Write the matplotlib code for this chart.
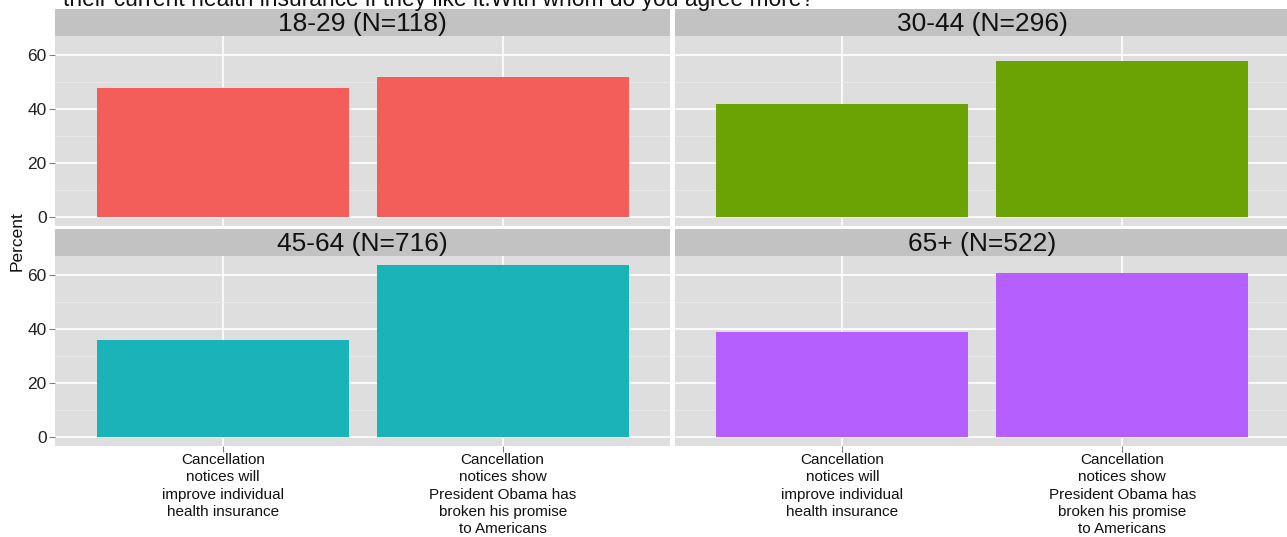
import numpy as np
import matplotlib
matplotlib.use("Agg")
import matplotlib.pyplot as plt

plt.rcParams['font.family'] = ['Liberation Sans', 'DejaVu Sans']

# data
groups = ['18-29 (N=118)', '30-44 (N=296)', '45-64 (N=716)', '65+ (N=522)']
answers = ['Cancellation\nnotices will\nimprove individual\nhealth insurance',
           'Cancellation\nnotices show\nPresident Obama has\nbroken his promise\nto Americans']
pct_18_29 = [48, 52]
pct_30_44 = [42, 58]
pct_45_64 = [36, 64]
pct_65_up = [39, 61]
values = [pct_18_29, pct_30_44, pct_45_64, pct_65_up]
colors = ['#F35E5A', '#6BA305', '#19B3B8', '#B65FFF']
yticks = [0, 20, 40, 60]
title = 'their current health insurance if they like it.With whom do you agree more?'

W, H = 1287, 537
fig = plt.figure(figsize=(W / 100, H / 100), dpi=100)


def px_axes(x0, y0, x1, y1):
    # pixel box (top-left origin) -> figure axes
    return fig.add_axes([x0 / W, 1 - y1 / H, (x1 - x0) / W, (y1 - y0) / H])


cols = [(55, 670.5), (674.5, 1290)]
rows = [(9, 36, 226), (229, 256, 446)]
ymax = max(max(v) for v in values)

for i, (grp, vals, col) in enumerate(zip(groups, values, colors)):
    r, c = divmod(i, 2)
    x0, x1 = cols[c]
    s0, s1, p1 = rows[r]

    ax = px_axes(x0, s1, x1, p1)
    ax.set_facecolor('#DEDEDE')
    x = np.arange(1, len(vals) + 1)
    ax.bar(x, vals, width=0.9, color=col, zorder=3)
    ax.set_xlim(0.4, len(vals) + 0.6)
    ax.set_ylim(-0.05 * ymax, ymax * 1.05)
    ax.set_yticks(yticks)
    ax.set_yticks([10, 30, 50], minor=True)
    ax.set_xticks(x)
    ax.grid(True, which='major', color='white', lw=1.2, zorder=1)
    ax.grid(True, which='minor', axis='y', color='#EBEBEB', lw=0.6, zorder=1)
    for sp in ax.spines.values():
        sp.set_visible(False)
    ax.tick_params(which='major', length=4, width=0.8, color='#7F7F7F',
                   labelsize=12.5, labelcolor='#222222', pad=2)
    ax.tick_params(which='minor', length=0)
    if c == 1:
        ax.tick_params(axis='y', labelleft=False, length=0)
    if r == 0:
        ax.tick_params(axis='x', labelbottom=False, length=0)
    else:
        ax.set_xticklabels(answers, fontsize=11, color='#111111', linespacing=1.3)
        ax.tick_params(axis='x', pad=1)

    st = px_axes(x0, s0, x1, s1)
    st.set_facecolor('#C2C2C2')
    st.set_xticks([])
    st.set_yticks([])
    for sp in st.spines.values():
        sp.set_visible(False)
    st.text(0.5, 0.45, grp, ha='center', va='center', fontsize=19,
            color='#111111', transform=st.transAxes)

fig.text(17 / W, 1 - 241 / H, 'Percent', rotation=90, ha='center', va='center',
         fontsize=12.5, color='#111111')
fig.text(63 / W, 1 - 6 / H, title, ha='left', va='baseline', fontsize=16.4,
         color='#111111')

fig.savefig('out.png', dpi=100)
